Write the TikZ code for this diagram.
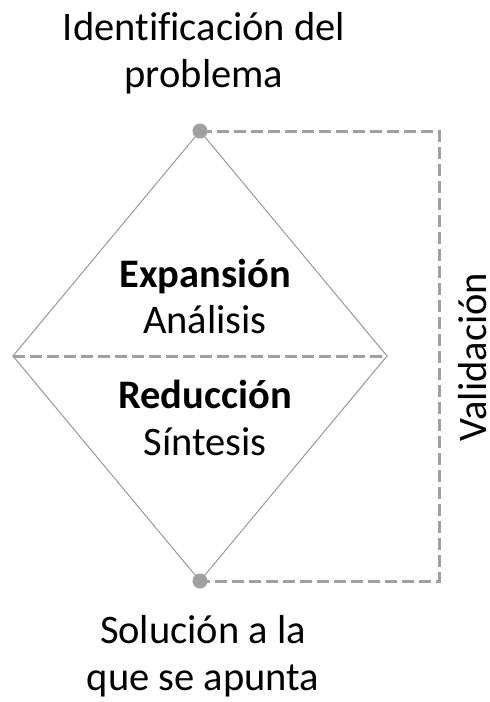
\documentclass[tikz,border=0pt]{standalone}
\usepackage{fontspec}
\setmainfont[Ligatures=NoCommon]{Carlito}
\definecolor{linegray}{RGB}{160,160,160}
\begin{document}
\begin{tikzpicture}[x=1pt,y=-1pt,
  lbl/.style={font=\fontsize{40.5}{48}\selectfont, inner sep=0pt, anchor=base, text=black},
  blbl/.style={lbl, font=\fontsize{40.5}{48}\selectfont\bfseries},
  dot/.style={circle, fill=linegray, inner sep=0pt, minimum size=15pt},
  thin/.style={draw=linegray, line width=1.1pt},
  dashln/.style={draw=linegray, line width=3pt, dash pattern=on 12pt off 5pt}]
\useasboundingbox (0,0) rectangle (490,702);
% vertices
\coordinate (L) at (13,356);
\coordinate (R) at (387,356);
\coordinate (T) at (200,131);
\coordinate (B) at (200,581);
\coordinate (TR) at (439,131);
\coordinate (BR) at (439,581);
% diamond
\draw[thin] (T) -- (R) -- (B) -- (L) -- cycle;
\draw[dashln] (L) -- (R);
\draw[dashln] (T) -- (TR) -- (BR) -- (B);
\node[dot] (topdot) at (T) {};
\node[dot] (botdot) at (B) {};
% texts
\node[lbl] (id1) at (204,40) {Identificación del};
\node[lbl] (id2) at (204,87) {problema};
\node[blbl] (exp) at (205,287) {Expansión};
\node[lbl] (ana) at (205,333) {Análisis};
\node[blbl] (red) at (205,408) {Reducción};
\node[lbl] (sin) at (205,455) {Síntesis};
\node[lbl] (sol1) at (203,643) {Solución a la};
\node[lbl] (sol2) at (203,690) {que se apunta};
\node[lbl, rotate=90, text depth=0pt] (val) at (486,357) {Validación};
\end{tikzpicture}
\end{document}
